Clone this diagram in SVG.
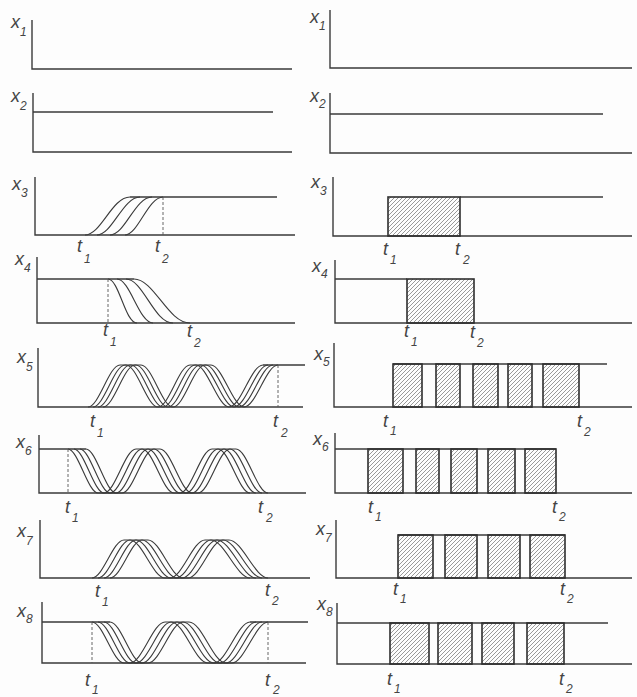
<svg xmlns="http://www.w3.org/2000/svg" xmlns:xlink="http://www.w3.org/1999/xlink" width="637" height="697" viewBox="0 0 637 697">
<style>
.ax{fill:none;stroke:#3a3a3a;stroke-width:1.4}
.ln{fill:none;stroke:#3a3a3a;stroke-width:1.3}
.cv{fill:none;stroke:#3a3a3a;stroke-width:1.1}
.ds{fill:none;stroke:#555;stroke-width:0.9;stroke-dasharray:3,2}
.hb{fill:url(#hatch);stroke:#2e2e2e;stroke-width:1.6}
.lb{font-family:"Liberation Sans",Arial,sans-serif;font-style:italic;font-size:18px;fill:#444}
.sb{font-family:"Liberation Sans",Arial,sans-serif;font-style:italic;font-size:12px;fill:#444}
</style>
<defs>
<pattern id="hatch" patternUnits="userSpaceOnUse" width="4" height="4">
<path d="M-1,1 l2,-2 M0,4 l4,-4 M3,5 l2,-2" stroke="#6e6e6e" stroke-width="0.7"/>
</pattern>
<path id="w5" class="cv" d="M88,407 c11,0 21,-42 32,-42 h6 c11,0 21,42 32,42 c11,0 21,-42 32,-42 h6 c11,0 22,42 33,42 c12,0 22,-42 34,-42"/>
<path id="w6" class="cv" d="M68,449 c10,0 20,44 30,44 h6 c11,0 21,-44 32,-44 h6 c11,0 21,44 32,44 h6 c11,0 21,-44 32,-44 h6 c11,0 21,44 32,44"/>
<path id="w7" class="cv" d="M92,578 c11,0 21,-38 32,-38 h6 c12,0 23,38 35,38 h5 c12,0 23,-38 35,-38 h6 c13,0 26,38 39,38"/>
<path id="w8" class="cv" d="M92,622 c11,0 21,41 32,41 h6 c12,0 23,-41 35,-41 h6 c13,0 24,41 37,41 h6 c12,0 24,-41 36,-41"/>
</defs>
<rect width="637" height="697" fill="#fdfdfd"/>

<!-- LEFT COLUMN -->
<g id="L1">
<path class="ax" d="M32,20 V69 H292"/>
<text class="lb" x="11" y="28">x</text><text class="sb" x="20" y="36">1</text>
</g>
<g id="L2">
<path class="ax" d="M33,93 V152 H292"/>
<path class="ln" d="M33,112 H273"/>
<text class="lb" x="11" y="102">x</text><text class="sb" x="20" y="110">2</text>
</g>
<g id="L3">
<path class="ax" d="M35,177 V235 H295"/>
<path class="ln" d="M130,197 H277"/>
<path class="cv" d="M85,235 c16,0 27,-38 45,-38 M97,235 c15,0 26,-38 43,-38 M110,235 c15,0 25,-38 42,-38 M125,235 c13,0 23,-38 38,-38"/>
<path class="ds" d="M163,197 V235"/>
<text class="lb" x="12" y="190">x</text><text class="sb" x="21" y="197">3</text>
<text class="lb" x="77" y="252">t</text><text class="sb" x="84" y="263">1</text>
<text class="lb" x="155" y="252">t</text><text class="sb" x="162" y="263">2</text>
</g>
<g id="L4">
<path class="ax" d="M37,257 V323 H295"/>
<path class="ln" d="M37,279 H134"/>
<path class="cv" d="M108,279 c11,0 17,44 29,44 M117,279 c13,0 22,44 36,44 M126,279 c17,0 28,44 47,44 M134,279 c20,0 34,44 56,44"/>
<path class="ds" d="M108,279 V323"/>
<text class="lb" x="15" y="265">x</text><text class="sb" x="24" y="272">4</text>
<text class="lb" x="103" y="336">t</text><text class="sb" x="110" y="346">1</text>
<text class="lb" x="187" y="337">t</text><text class="sb" x="194" y="347">2</text>
</g>
<g id="L5">
<path class="ax" d="M38,348 V407 H303"/>
<path class="ln" d="M263,365 H305"/>
<use xlink:href="#w5"/><use xlink:href="#w5" x="5"/><use xlink:href="#w5" x="10"/><use xlink:href="#w5" x="15"/>
<path class="ds" d="M278,365 V407"/>
<text class="lb" x="17" y="363">x</text><text class="sb" x="26" y="371">5</text>
<text class="lb" x="90" y="427">t</text><text class="sb" x="97" y="437">1</text>
<text class="lb" x="273" y="427">t</text><text class="sb" x="281" y="437">2</text>
</g>
<g id="L6">
<path class="ax" d="M39,435 V493 H306"/>
<path class="ln" d="M39,449 H86"/>
<use xlink:href="#w6"/><use xlink:href="#w6" x="6"/><use xlink:href="#w6" x="12"/><use xlink:href="#w6" x="18"/>
<path class="ds" d="M68,449 V493"/>
<text class="lb" x="16" y="448">x</text><text class="sb" x="25" y="455">6</text>
<text class="lb" x="65" y="513">t</text><text class="sb" x="72" y="522">1</text>
<text class="lb" x="258" y="513">t</text><text class="sb" x="266" y="522">2</text>
</g>
<g id="L7">
<path class="ax" d="M40,520 V578 H310"/>
<use xlink:href="#w7"/><use xlink:href="#w7" x="6"/><use xlink:href="#w7" x="12"/><use xlink:href="#w7" x="18"/>
<text class="lb" x="17" y="537">x</text><text class="sb" x="26" y="545">7</text>
<text class="lb" x="95" y="597">t</text><text class="sb" x="102" y="606">1</text>
<text class="lb" x="265" y="596">t</text><text class="sb" x="272" y="605">2</text>
</g>
<g id="L8">
<path class="ax" d="M42,602 V663 H306"/>
<path class="ln" d="M42,622 H110 M250,622 H308"/>
<use xlink:href="#w8"/><use xlink:href="#w8" x="6"/><use xlink:href="#w8" x="12"/><use xlink:href="#w8" x="18"/>
<path class="ds" d="M92,622 V663 M268,622 V663"/>
<text class="lb" x="17" y="617">x</text><text class="sb" x="26" y="623">8</text>
<text class="lb" x="85" y="686">t</text><text class="sb" x="92" y="694">1</text>
<text class="lb" x="265" y="686">t</text><text class="sb" x="273" y="694">2</text>
</g>

<!-- RIGHT COLUMN -->
<g id="R1">
<path class="ax" d="M330,10 V68 H632"/>
<text class="lb" x="310" y="23">x</text><text class="sb" x="319" y="30">1</text>
</g>
<g id="R2">
<path class="ax" d="M330,93 V153 H632"/>
<path class="ln" d="M330,114 H603"/>
<text class="lb" x="310" y="102">x</text><text class="sb" x="319" y="108">2</text>
</g>
<g id="R3">
<path class="ax" d="M333,177 V236 H632"/>
<path class="ln" d="M460,197 H603"/>
<rect class="hb" x="388" y="197" width="72" height="39"/>
<text class="lb" x="311" y="188">x</text><text class="sb" x="320" y="195">3</text>
<text class="lb" x="383" y="255">t</text><text class="sb" x="390" y="264">1</text>
<text class="lb" x="455" y="255">t</text><text class="sb" x="463" y="264">2</text>
</g>
<g id="R4">
<path class="ax" d="M335,260 V323 H632"/>
<path class="ln" d="M335,279 H407"/>
<rect class="hb" x="407" y="279" width="67" height="44"/>
<text class="lb" x="312" y="272">x</text><text class="sb" x="321" y="278">4</text>
<text class="lb" x="404" y="337">t</text><text class="sb" x="411" y="346">1</text>
<text class="lb" x="470" y="338">t</text><text class="sb" x="477" y="347">2</text>
</g>
<g id="R5">
<path class="ax" d="M334,343 V407 H632"/>
<path class="ln" d="M393,364 H607"/>
<rect class="hb" x="393" y="364" width="29" height="43"/>
<rect class="hb" x="436" y="364" width="24" height="43"/>
<rect class="hb" x="473" y="364" width="25" height="43"/>
<rect class="hb" x="508" y="364" width="24" height="43"/>
<rect class="hb" x="543" y="364" width="36" height="43"/>
<text class="lb" x="314" y="360">x</text><text class="sb" x="323" y="366">5</text>
<text class="lb" x="383" y="427">t</text><text class="sb" x="390" y="435">1</text>
<text class="lb" x="577" y="427">t</text><text class="sb" x="584" y="436">2</text>
</g>
<g id="R6">
<path class="ax" d="M335,433 V493 H632"/>
<path class="ln" d="M335,449 H556"/>
<rect class="hb" x="368" y="449" width="35" height="44"/>
<rect class="hb" x="416" y="449" width="23" height="44"/>
<rect class="hb" x="451" y="449" width="26" height="44"/>
<rect class="hb" x="488" y="449" width="27" height="44"/>
<rect class="hb" x="525" y="449" width="31" height="44"/>
<text class="lb" x="313" y="445">x</text><text class="sb" x="322" y="451">6</text>
<text class="lb" x="368" y="513">t</text><text class="sb" x="375" y="521">1</text>
<text class="lb" x="552" y="513">t</text><text class="sb" x="559" y="521">2</text>
</g>
<g id="R7">
<path class="ax" d="M336,520 V578 H632"/>
<path class="ln" d="M398,535 H565"/>
<rect class="hb" x="398" y="535" width="35" height="43"/>
<rect class="hb" x="445" y="535" width="32" height="43"/>
<rect class="hb" x="488" y="535" width="32" height="43"/>
<rect class="hb" x="530" y="535" width="35" height="43"/>
<text class="lb" x="316" y="535">x</text><text class="sb" x="325" y="542">7</text>
<text class="lb" x="393" y="595">t</text><text class="sb" x="400" y="603">1</text>
<text class="lb" x="560" y="595">t</text><text class="sb" x="567" y="603">2</text>
</g>
<g id="R8">
<path class="ax" d="M337,603 V664 H632"/>
<path class="ln" d="M337,623 H608"/>
<rect class="hb" x="390" y="623" width="39" height="41"/>
<rect class="hb" x="438" y="623" width="34" height="41"/>
<rect class="hb" x="482" y="623" width="32" height="41"/>
<rect class="hb" x="527" y="623" width="37" height="41"/>
<text class="lb" x="317" y="610">x</text><text class="sb" x="326" y="616">8</text>
<text class="lb" x="387" y="685">t</text><text class="sb" x="394" y="693">1</text>
<text class="lb" x="559" y="685">t</text><text class="sb" x="566" y="693">2</text>
</g>
</svg>
